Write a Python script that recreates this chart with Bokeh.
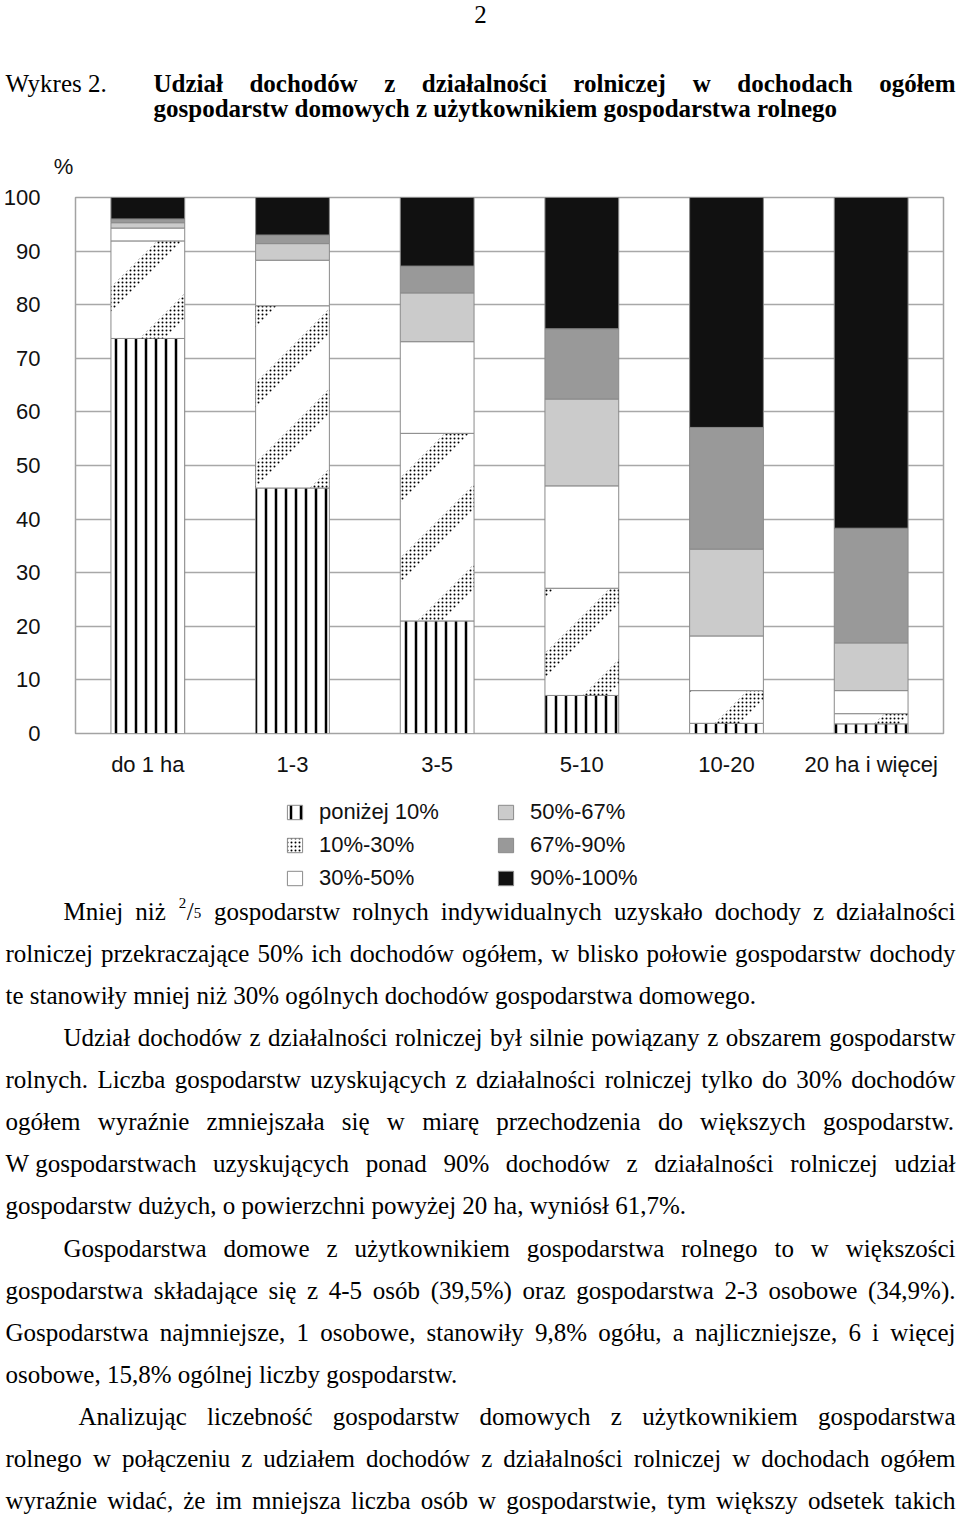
from bokeh.plotting import figure
from bokeh.models import ColumnDataSource, Range1d, FactorRange, FixedTicker, Legend, LegendItem
from bokeh.layouts import column
from bokeh.transform import stack
from bokeh.embed import file_html
from bokeh.resources import INLINE
from bokeh.core.properties import value

# ---------------- data ----------------
categories = ["do 1 ha", "1-3", "3-5", "5-10", "10-20", "20 ha i więcej"]
class_labels = ["poniżej 10%", "10%-30%", "30%-50%", "50%-67%", "67%-90%", "90%-100%"]
below_10 = [73.7, 45.8, 21.0, 7.1, 1.9, 1.8]
from_10_to_30 = [18.2, 34.0, 35.0, 20.0, 6.1, 1.9]
from_30_to_50 = [2.4, 8.5, 17.1, 19.1, 10.2, 4.3]
from_50_to_67 = [1.0, 3.1, 9.1, 16.2, 16.2, 8.9]
from_67_to_90 = [0.7, 1.6, 5.0, 13.1, 22.7, 21.4]
from_90_to_100 = [4.0, 7.0, 12.8, 24.5, 42.9, 61.7]
y_ticks = [0, 10, 20, 30, 40, 50, 60, 70, 80, 90, 100]

page_number = "2"
figure_caption = "Wykres 2."
title_line1 = "Udział dochodów z działalności rolniczej w dochodach ogółem"
title_line2 = "gospodarstw domowych z użytkownikiem gospodarstwa rolnego"
unit_label = "%"

FRAC = "\u00a7FRAC"
body_lines = [
    ("Mniej niż " + FRAC + " gospodarstw rolnych indywidualnych uzyskało dochody z działalności", 63, True),
    ("rolniczej przekraczające 50% ich dochodów ogółem, w blisko połowie gospodarstw dochody", 5, True),
    ("te stanowiły mniej niż 30% ogólnych dochodów gospodarstwa domowego.", 5, False),
    ("Udział dochodów z działalności rolniczej był silnie powiązany z obszarem gospodarstw", 63, True),
    ("rolnych. Liczba gospodarstw uzyskujących z działalności rolniczej tylko do 30% dochodów", 5, True),
    ("ogółem wyraźnie zmniejszała się w miarę przechodzenia do większych gospodarstw.", 5, True),
    ("W\u00a0gospodarstwach uzyskujących ponad 90% dochodów z działalności rolniczej udział", 5, True),
    ("gospodarstw dużych, o powierzchni powyżej 20 ha, wyniósł 61,7%.", 5, False),
    ("Gospodarstwa domowe z użytkownikiem gospodarstwa rolnego to w większości", 63, True),
    ("gospodarstwa składające się z 4-5 osób (39,5%) oraz gospodarstwa 2-3 osobowe (34,9%).", 5, True),
    ("Gospodarstwa najmniejsze, 1 osobowe, stanowiły 9,8% ogółu, a najliczniejsze, 6 i więcej", 5, True),
    ("osobowe, 15,8% ogólnej liczby gospodarstw.", 5, False),
    ("Analizując liczebność gospodarstw domowych z użytkownikiem gospodarstwa", 78, True),
    ("rolnego w połączeniu z udziałem dochodów z działalności rolniczej w dochodach ogółem", 5, True),
    ("wyraźnie widać, że im mniejsza liczba osób w gospodarstwie, tym większy odsetek takich", 5, True),
]

# --------------- font metrics (Times metrics, per 1000 em) ---------------
REG = {' ': 250, '\u00a0': 250, '!': 333, '%': 833, '(': 333, ')': 333, ',': 250, '-': 333, '.': 250,
       '/': 278, ':': 278,
       'A': 722, 'B': 667, 'C': 667, 'D': 722, 'E': 611, 'F': 556, 'G': 722, 'H': 722, 'I': 333,
       'J': 389, 'K': 722, 'L': 611, 'M': 889, 'N': 722, 'O': 722, 'P': 556, 'Q': 722, 'R': 667,
       'S': 556, 'T': 611, 'U': 722, 'V': 722, 'W': 944, 'X': 722, 'Y': 722, 'Z': 611,
       'a': 444, 'b': 500, 'c': 444, 'd': 500, 'e': 444, 'f': 333, 'g': 500, 'h': 500, 'i': 278,
       'j': 278, 'k': 500, 'l': 278, 'm': 778, 'n': 500, 'o': 500, 'p': 500, 'q': 500, 'r': 333,
       's': 389, 't': 278, 'u': 500, 'v': 500, 'w': 722, 'x': 500, 'y': 500, 'z': 444,
       'ą': 444, 'ć': 444, 'ę': 444, 'ł': 278, 'ń': 500, 'ó': 500, 'ś': 389, 'ź': 444, 'ż': 444}
for d in "0123456789":
    REG[d] = 500
BOLD = dict(REG)
BOLD.update({'%': 1000, 'U': 722, 'W': 1000, 'a': 500, 'c': 444, 'd': 556, 'e': 444, 'g': 500,
             'h': 556, 'i': 278, 'j': 333, 'k': 556, 'l': 278, 'm': 833, 'n': 556, 'o': 500,
             'p': 556, 'r': 444, 's': 389, 't': 333, 'u': 556, 'w': 722, 'y': 500, 'z': 444,
             'ł': 278, 'ó': 500, 'ś': 389, 'ż': 444})

BODY_SIZE = 25
FRAC_W = 24
RIGHT = 955


def width(s, table, size):
    if s == FRAC:
        return FRAC_W
    return sum(table.get(ch, 500) for ch in s) * size / 1000.0


def layout_line(text, x0, x1, justify, table, size):
    words = text.split(" ")
    widths = [width(w, table, size) for w in words]
    if justify and len(words) > 1:
        gap = (x1 - x0 - sum(widths)) / (len(words) - 1)
    else:
        gap = table[' '] * size / 1000.0
    xs = []
    x = x0
    for w in widths:
        xs.append(x)
        x += w + gap
    return words, xs


def text_figure(height, top):
    f = figure(width=960, height=height, x_range=Range1d(0, 960), y_range=Range1d(top + height, top),
               output_backend="svg", toolbar_location=None, min_border=0,
               x_axis_location=None, y_axis_location=None, frame_align=False)
    f.xgrid.visible = False
    f.ygrid.visible = False
    f.outline_line_color = None
    f.background_fill_color = "white"
    f.border_fill_color = "white"
    return f


SERIF = value("Liberation Serif")
SANS = value("Liberation Sans")

# ---------------- header ----------------
head = text_figure(180, 0)
head.text(x=[480], y=[14], text=[page_number], text_font=SERIF, text_font_size="25px",
          text_align="center", text_baseline="alphabetic", text_color="black")
head.text(x=[5], y=[83], text=[figure_caption], text_font=SERIF, text_font_size="25px",
          text_align="left", text_baseline="alphabetic", text_color="black")
w1, x1s = layout_line(title_line1, 153, RIGHT, True, BOLD, 25)
w2, x2s = layout_line(title_line2, 153, RIGHT, False, BOLD, 25)
head.text(x=x1s + x2s, y=[83] * len(w1) + [108] * len(w2), text=w1 + w2, text_font=SERIF,
          text_font_size="25px", text_font_style="bold", text_align="left",
          text_baseline="alphabetic", text_color="black")
head.text(x=[63], y=[166], text=[unit_label], text_font=SANS, text_font_size="22px",
          text_align="center", text_baseline="middle", text_color="#111111")

# ---------------- chart ----------------
FRAME_W, FRAME_H, BAR_W = 868, 536, 0.51
keys = ["below_10", "from_10_to_30", "from_30_to_50", "from_50_to_67", "from_67_to_90", "from_90_to_100"]
src = ColumnDataSource(dict(cat=categories, below_10=below_10, from_10_to_30=from_10_to_30,
                            from_30_to_50=from_30_to_50, from_50_to_67=from_50_to_67,
                            from_67_to_90=from_67_to_90, from_90_to_100=from_90_to_100))

p = figure(x_range=FactorRange(*categories, range_padding=0), y_range=Range1d(0, 100),
           frame_width=FRAME_W, frame_height=FRAME_H, min_border_left=75, min_border_right=17,
           min_border_top=17, min_border_bottom=52, output_backend="svg", toolbar_location=None,
           frame_align=False)
p.background_fill_color = "white"
p.border_fill_color = "white"
p.outline_line_color = "#a3a3a3"
p.outline_line_width = 1.5
p.xgrid.visible = False
p.ygrid.ticker = FixedTicker(ticks=y_ticks)
p.ygrid.grid_line_color = "#a8a8a8"
p.ygrid.grid_line_width = 1.5
p.yaxis.ticker = FixedTicker(ticks=y_ticks)
for ax in (p.xaxis, p.yaxis):
    ax.axis_line_color = None
    ax.major_tick_line_color = None
    ax.minor_tick_line_color = None
    ax.major_label_text_font = "Liberation Sans"
    ax.major_label_text_font_size = "22px"
    ax.major_label_text_color = "#111111"
p.yaxis.major_label_standoff = 29
p.xaxis.major_label_standoff = 12

styles = [
    dict(fill_color="white", hatch_pattern="vertical_line", hatch_color="black", hatch_weight=2.5, hatch_scale=10),
    dict(fill_color="white"),
    dict(fill_color="white"),
    dict(fill_color="#cbcbcb"),
    dict(fill_color="#999999"),
    dict(fill_color="#111111"),
]
DOTS = dict(hatch_pattern="dot", hatch_color="black", hatch_scale=4, hatch_weight=1)


def clip_halfplane(poly, c, keep_ge):
    """clip polygon [(u, v)] by u + v >= c (keep_ge) or u + v <= c"""
    out = []
    n = len(poly)
    for j in range(n):
        a, b = poly[j], poly[(j + 1) % n]
        fa = (a[0] + a[1] - c) if keep_ge else (c - a[0] - a[1])
        fb = (b[0] + b[1] - c) if keep_ge else (c - b[0] - b[1])
        if fa >= 0:
            out.append(a)
        if (fa >= 0) != (fb >= 0):
            t = fa / (fa - fb)
            out.append((a[0] + t * (b[0] - a[0]), a[1] + t * (b[1] - a[1])))
    return out


def diagonal_bands(i, bottom, top, period=80.0, band=25.0, phase=45.0):
    """45-degree dotted bands filling one stacked segment; returns factor-range synthetic x and data y"""
    sx = FRAME_W / len(categories)
    sy = FRAME_H / 100.0
    u0, u1 = (i + 0.5 - BAR_W / 2) * sx, (i + 0.5 + BAR_W / 2) * sx
    v0, v1 = (100 - top) * sy, (100 - bottom) * sy
    rect = [(u0, v0), (u1, v0), (u1, v1), (u0, v1)]
    xs, ys = [], []
    k = int((u0 + v0 - phase) // period) - 1
    while k * period + phase < u1 + v1:
        c = k * period + phase
        poly = clip_halfplane(clip_halfplane(rect, c, True), c + band, False)
        if len(poly) >= 3:
            xs.append([u / sx for u, v in poly])
            ys.append([100 - v / sy for u, v in poly])
        k += 1
    return xs, ys


for i, k in enumerate(keys):
    p.vbar(x="cat", bottom=stack(*keys[:i]), top=stack(*keys[:i + 1]), width=BAR_W, source=src,
           line_color="#8a8a8a", line_width=1, **styles[i])
    if k == "from_10_to_30":
        bxs, bys = [], []
        for j in range(len(categories)):
            xs_j, ys_j = diagonal_bands(j, below_10[j], below_10[j] + from_10_to_30[j])
            bxs += xs_j
            bys += ys_j
        p.patches(xs=bxs, ys=bys, fill_alpha=0, line_alpha=0, **DOTS)

# ---------------- legend ----------------
leg = text_figure(106, 785)
legend_styles = [dict(s) for s in styles]
legend_styles[1].update(DOTS)
swatches = []
for i in range(6):
    r = leg.vbar(x=[0], top=[0], width=1, line_color="#8a8a8a", line_width=1, **legend_styles[i])
    r.visible = False
    swatches.append(r)
legend = Legend(items=[LegendItem(label=class_labels[i], renderers=[swatches[i]]) for i in range(6)],
                location=(285, 0), orientation="vertical", nrows=3,
                glyph_width=19, glyph_height=18, label_standoff=15, spacing=7, label_width=170,
                label_height=18, label_text_font="Liberation Sans", label_text_font_size="22px",
                label_text_color="#111111", padding=0, margin=0, border_line_color=None,
                background_fill_alpha=0, inactive_fill_alpha=0)
leg.add_layout(legend)

# ---------------- body text ----------------
body = text_figure(626, 891)
b0 = 911
pitch = 42.07
tx, ty, tt = [], [], []
fx_sup, fy_sup, fx_sl, fy_sl, fx_sub, fy_sub = [], [], [], [], [], []
for li, (line, x0, just) in enumerate(body_lines):
    yb = b0 + li * pitch
    words, xs = layout_line(line, x0, RIGHT, just, REG, BODY_SIZE)
    for w, x in zip(words, xs):
        if w == FRAC:
            fx_sup.append(x + 1); fy_sup.append(yb - 9)
            fx_sl.append(x + 9); fy_sl.append(yb)
            fx_sub.append(x + 16); fy_sub.append(yb + 1)
        else:
            tx.append(x); ty.append(yb); tt.append(w)
body.text(x=tx, y=ty, text=tt, text_font=SERIF, text_font_size="25px", text_align="left",
          text_baseline="alphabetic", text_color="black")
body.text(x=fx_sup, y=fy_sup, text=["2"], text_font=SERIF, text_font_size="15px", text_align="left",
          text_baseline="alphabetic", text_color="black")
body.text(x=fx_sl, y=fy_sl, text=["/"], text_font=SERIF, text_font_size="25px", text_align="left",
          text_baseline="alphabetic", text_color="black")
body.text(x=fx_sub, y=fy_sub, text=["5"], text_font=SERIF, text_font_size="15px", text_align="left",
          text_baseline="alphabetic", text_color="black")

page = column(head, p, leg, body, spacing=0)
open("out.html", "w").write(file_html(page, INLINE))
